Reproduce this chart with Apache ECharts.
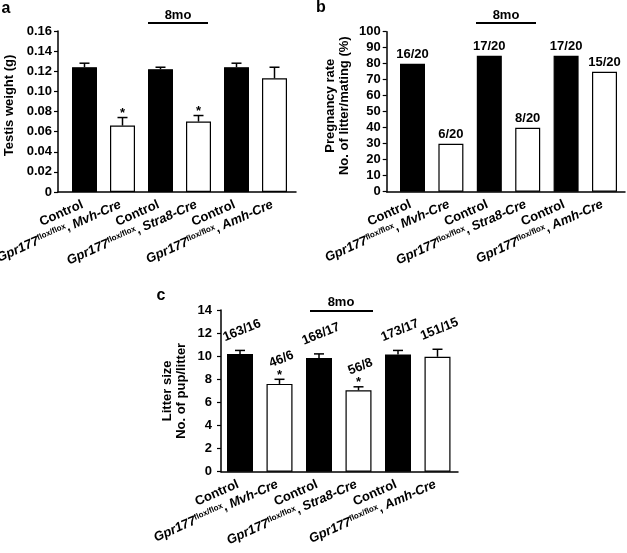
<!DOCTYPE html>
<html><head><meta charset="utf-8">
<script src="https://cdn.jsdelivr.net/npm/echarts@6/dist/echarts.min.js"></script>
<style>html,body{margin:0;padding:0;background:#fff}#c{width:627px;height:553px}</style>
</head><body><div id="c"></div>
<script>
// ---- data ----
const categories = ['Control', 'Mvh-Cre', 'Control', 'Stra8-Cre', 'Control', 'Amh-Cre'];
const isControl = [true, false, true, false, true, false];
const geneName = 'Gpr177';
const geneSup = 'flox/flox';

const testisWeight = [0.124, 0.066, 0.122, 0.070, 0.124, 0.113];
const testisErr = [0.004, 0.008, 0.002, 0.006, 0.004, 0.011];
const testisSig = ['', '*', '', '*', '', ''];

const pregnancyRate = [80, 30, 85, 40, 85, 75];
const pregnancyLabels = ['16/20', '6/20', '17/20', '8/20', '17/20', '15/20'];

const litterSize = [10.2, 7.6, 9.85, 7.05, 10.15, 9.95];
const litterErr = [0.3, 0.4, 0.35, 0.3, 0.35, 0.65];
const litterSig = ['', '*', '', '*', '', ''];
const litterLabels = ['163/16', '46/6', '168/17', '56/8', '173/17', '151/15'];

const yTitleA = 'Testis weight (g)';
const yTitleB = 'Pregnancy rate\nNo. of litter/mating (%)';
const yTitleC = 'Litter size\nNo. of pup/litter';
const panelLetters = ['a', 'b', 'c'];
const groupNote = '8mo';

// ---- layout / style ----
const FONT = "'Liberation Sans', Arial, Helvetica, sans-serif";
const LABEL_ROT = 24 * Math.PI / 180;
const COUNT_ROT = 22 * Math.PI / 180;
const panels = [
  {axis: {left: 58, top: 31, width: 238, height: 161}, bars: {left: 65.5, width: 228},
   max: 0.16, interval: 0.02, yMargin: 6, fmt: v => v === 0 ? '0' : v.toFixed(2),
   name: yTitleA, nameGap: 42, namePad: [0, 0, 0, 12], barWidth: 25,
   values: testisWeight, errs: testisErr, sig: testisSig, topLabels: null, rotLabels: null},
  {axis: {left: 386.7, top: 31.7, width: 238.3, height: 160}, bars: {left: 393.3, width: 230.4},
   max: 100, interval: 10, yMargin: 6, fmt: v => String(v),
   name: yTitleB, nameGap: 35, namePad: [0, 0, 0, 12], barWidth: 25,
   values: pregnancyRate, errs: null, sig: null, topLabels: pregnancyLabels, rotLabels: null},
  {axis: {left: 221, top: 310, width: 237, height: 161.7}, bars: {left: 220.25, width: 237},
   max: 14, interval: 2, yMargin: 9, fmt: v => String(v),
   name: yTitleC, nameGap: 33, namePad: [0, 0, 0, 0], barWidth: 26,
   values: litterSize, errs: litterErr, sig: litterSig, topLabels: null, rotLabels: litterLabels}
];

const grids = [], xAxes = [], yAxes = [], series = [];
const axisLineStyle = {color: '#000', width: 1.5};
const boldText = {fontFamily: FONT, fontWeight: 'bold', fontSize: 13, color: '#000'};
const richStyles = {
  c: {fontFamily: FONT, fontWeight: 'bold', fontSize: 13, fill: '#000'},
  i: {fontFamily: FONT, fontWeight: 'bold', fontStyle: 'italic', fontSize: 13, fill: '#000'},
  s: {fontFamily: FONT, fontWeight: 'bold', fontSize: 8, fill: '#000', verticalAlign: 'top'}
};

function mkText(t, x, y, rot) {
  return {type: 'text', x: x, y: y, rotation: rot,
    style: {text: t, fill: '#000', font: 'bold 13px ' + FONT, align: 'center', verticalAlign: 'middle'}};
}

panels.forEach((p, k) => {
  const gA = grids.length;
  grids.push({left: p.axis.left, top: p.axis.top, width: p.axis.width, height: p.axis.height});
  const gB = grids.length;
  grids.push({left: p.bars.left, top: p.axis.top, width: p.bars.width, height: p.axis.height});

  xAxes.push({gridIndex: gA, type: 'value', min: 0, max: 1,
    axisLine: {show: true, lineStyle: axisLineStyle}, axisTick: {show: false},
    axisLabel: {show: false}, splitLine: {show: false}});
  yAxes.push({gridIndex: gA, type: 'value', min: 0, max: p.max, interval: p.interval,
    axisLine: {show: true, lineStyle: axisLineStyle},
    axisTick: {show: true, length: 4, lineStyle: {color: '#000', width: 1.2}},
    axisLabel: Object.assign({margin: p.yMargin, formatter: p.fmt}, boldText),
    splitLine: {show: false},
    name: p.name, nameLocation: 'middle', nameGap: p.nameGap,
    nameTextStyle: Object.assign({lineHeight: 14, padding: p.namePad}, boldText)});

  const xB = xAxes.length;
  xAxes.push({gridIndex: gB, type: 'category', data: categories,
    axisLine: {show: false}, axisTick: {show: false}, splitLine: {show: false},
    axisLabel: {show: false}});
  const yB = yAxes.length;
  yAxes.push({gridIndex: gB, type: 'value', min: 0, max: p.max, show: false});

  series.push({type: 'bar', xAxisIndex: xB, yAxisIndex: yB, barWidth: p.barWidth,
    data: p.values.map((v, i) => ({value: v, itemStyle: {color: isControl[i] ? '#000' : '#fff'}})),
    itemStyle: {borderColor: '#000', borderWidth: 1.2},
    label: p.topLabels ? Object.assign({show: true, position: 'top', distance: 3,
      formatter: q => p.topLabels[q.dataIndex]}, boldText) : {show: false},
    animation: false, z: 2});

  // category labels (rotated, rich text)
  series.push({type: 'custom', xAxisIndex: xB, yAxisIndex: yB, z: 4, animation: false, clip: false, silent: true,
    encode: {x: 0, y: 1},
    data: categories.map((c, i) => [i, 0]),
    renderItem: (params, api) => {
      const i = params.dataIndex;
      const pt = api.coord([api.value(0), 0]);
      const txt = isControl[i] ? '{c|' + categories[i] + '}' :
        '{i|' + geneName + '}{s|' + geneSup + '}{c|, }{i|' + categories[i] + '}';
      return {type: 'text', x: pt[0] - 2, y: pt[1] + 12, rotation: LABEL_ROT,
        style: {text: txt, rich: richStyles, fill: '#000', font: 'bold 13px ' + FONT,
          align: 'right', verticalAlign: 'middle'}};
    }});

  if (p.errs) {
    series.push({type: 'custom', xAxisIndex: xB, yAxisIndex: yB, z: 3, animation: false, clip: false,
      encode: {x: 0, y: 1},
      data: p.values.map((v, i) => [i, v, p.errs[i]]),
      renderItem: (params, api) => {
        const i = api.value(0), v = api.value(1), e = api.value(2);
        const p0 = api.coord([i, v]);
        const p1 = api.coord([i, v + e]);
        const ch = [
          {type: 'line', shape: {x1: p0[0], y1: p0[1], x2: p1[0], y2: p1[1]}, style: {stroke: '#000', lineWidth: 1.5}},
          {type: 'line', shape: {x1: p1[0] - 5, y1: p1[1], x2: p1[0] + 5, y2: p1[1]}, style: {stroke: '#000', lineWidth: 1.5}}
        ];
        const di = params.dataIndex;
        if (p.sig && p.sig[di]) ch.push(mkText(p.sig[di], p1[0], p1[1] - 4, 0));
        if (p.rotLabels) ch.push(mkText(p.rotLabels[di], p1[0] + 2, p1[1] - 20, COUNT_ROT));
        return {type: 'group', children: ch};
      }});
  }
});

function gText(t, x, y, size) {
  return {type: 'text', x: x, y: y, style: {text: t, fill: '#000',
    font: 'bold ' + size + 'px ' + FONT, align: 'center', verticalAlign: 'middle'}};
}
function gLine(x1, y1, x2, y2) {
  return {type: 'line', shape: {x1: x1, y1: y1, x2: x2, y2: y2}, style: {stroke: '#000', lineWidth: 2}};
}

const graphic = [
  gText(panelLetters[0], 6, 9, 16), gText(panelLetters[1], 321, 8, 16), gText(panelLetters[2], 161, 296, 16),
  gText(groupNote, 178, 15, 13), gLine(148, 23, 208, 23),
  gText(groupNote, 506, 15, 13), gLine(476, 23, 536, 23),
  gText(groupNote, 341, 302, 13), gLine(310, 311, 373, 311)
];

const chart = echarts.init(document.getElementById('c'));
chart.setOption({animation: false, backgroundColor: '#fff', grid: grids, xAxis: xAxes, yAxis: yAxes,
  series: series, graphic: graphic});
</script>
</body></html>
